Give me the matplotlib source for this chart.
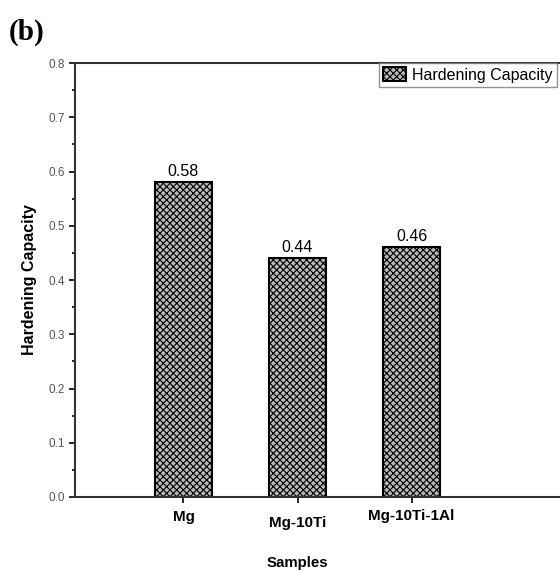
import matplotlib.pyplot as plt
from matplotlib.ticker import MultipleLocator

plt.rcParams['font.family'] = ['Liberation Sans', 'DejaVu Sans']
plt.rcParams['hatch.color'] = '#3a3a3a'
plt.rcParams['hatch.linewidth'] = 0.8

samples = ["Mg", "Mg-10Ti", "Mg-10Ti-1Al"]
capacity = [0.58, 0.44, 0.46]
label_text = ["0.58", "0.44", "0.46"]
positions = [1, 2, 3]

fig = plt.figure(figsize=(5.6, 5.71), dpi=100)
ax = fig.add_axes([0.134, 0.1296, 0.866, 0.760])

bars = ax.bar(positions, capacity, width=0.5, facecolor='#b8b8b8',
              edgecolor='black', linewidth=1.5, hatch='xxxxx',
              label="Hardening Capacity")
for x, v, t in zip(positions, capacity, label_text):
    ax.text(x, v + 0.006, t, ha='center', va='bottom', fontsize=11.5)

ax.set_xlim(0.05, 4.3)
ax.set_ylim(0, 0.8)
ax.yaxis.set_major_locator(MultipleLocator(0.1))
ax.yaxis.set_minor_locator(MultipleLocator(0.05))
ax.set_xticks(positions)
ax.set_xticklabels([])
for x, s, dy in zip(positions, samples, [-0.03, -0.043, -0.028]):
    ax.text(x, dy, s, ha='center', va='top', fontsize=11, fontweight='bold',
            transform=ax.get_xaxis_transform())
ax.tick_params(axis='both', direction='out', length=4, width=1.2,
               labelsize=8.5, labelcolor='#555555')
ax.tick_params(axis='y', which='minor', direction='out', length=2.5, width=1.2)
ax.set_yticklabels([f"{v:.1f}" for v in ax.get_yticks()])
for side in ['left', 'bottom', 'top']:
    ax.spines[side].set_linewidth(1.5)
    ax.spines[side].set_color('#333333')
ax.spines['right'].set_visible(False)

ax.set_ylabel("Hardening Capacity", fontsize=11.5, fontweight='bold', labelpad=8)
ax.text(2, -0.137, "Samples", ha='center', va='top', fontsize=10.8,
        fontweight='bold', transform=ax.get_xaxis_transform())

leg = ax.legend(loc='upper right', bbox_to_anchor=(0.993, 1.0), fontsize=11.5,
                frameon=True, fancybox=False, edgecolor='#777777',
                handlelength=1.4, handleheight=1.0, borderpad=0.25,
                handletextpad=0.4, borderaxespad=0)
leg.get_frame().set_linewidth(1.0)

fig.text(0.016, 0.968, "(b)", family=['Liberation Serif'], fontweight='bold',
         fontsize=21, va='top', ha='left')

fig.savefig("out.png", dpi=100)
